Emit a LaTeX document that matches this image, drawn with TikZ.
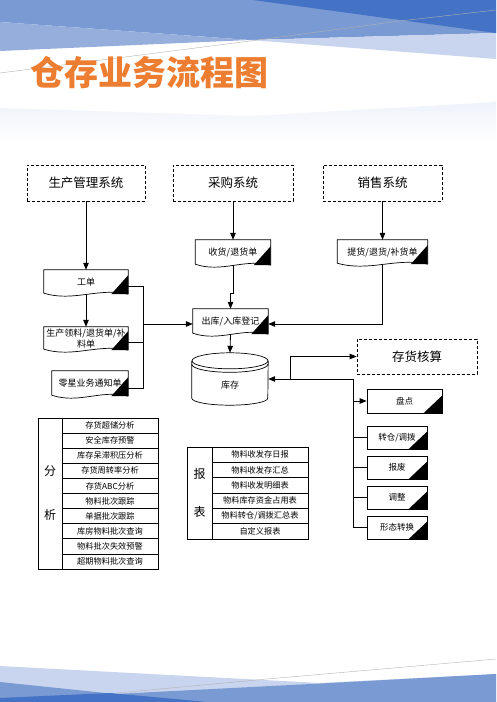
\documentclass[tikz,border=0pt]{standalone}
\usepackage{fontspec}
\setmainfont{Noto Sans CJK SC}
\usetikzlibrary{arrows.meta,calc}
\definecolor{titleorange}{HTML}{ED7D31}
\definecolor{bdark}{HTML}{4472C4}
\definecolor{bmed}{HTML}{7A9AD3}
\definecolor{bmid}{HTML}{95AEDC}
\definecolor{blight}{HTML}{C9D5EE}
\definecolor{bpale}{HTML}{EEF2FA}
\newcommand\docshape[1]{%
  \draw[line width=0.7pt] (#1.south east) -- (#1.north east) -- (#1.north west) -- ($(#1.south west)+(0,-1)$)
    .. controls ($(#1.south west)!0.35!(#1.south east)+(0,8)$) and ($(#1.south west)!0.65!(#1.south east)+(0,-7)$) .. (#1.south east);
  \fill ($(#1.south east)+(0,-19)$) -- (#1.south east) -- ($(#1.south east)+(-17,0)$) -- cycle;}
\newcommand\boxtri[1]{%
  \fill ($(#1.south east)+(0,-18)$) -- (#1.south east) -- ($(#1.south east)+(-19,0)$) -- cycle;}
\begin{document}
\begin{tikzpicture}[x=1pt,y=-1pt,
  sysbox/.style={draw, dash pattern=on 3pt off 2pt, line width=0.8pt, inner sep=0pt,
    font=\fontsize{12.5}{15}\selectfont},
  docnode/.style={inner sep=0pt, align=center, font=\fontsize{9}{11}\selectfont},
  procbox/.style={draw, line width=0.7pt, inner sep=0pt, font=\fontsize{8.5}{10}\selectfont},
  cell/.style={draw, line width=0.7pt, minimum width=96pt, inner sep=0pt, font=\fontsize{8.2}{10}\selectfont},
  labcell/.style={draw, line width=0.7pt, inner sep=0pt, align=center, font=\fontsize{12}{14}\selectfont},
  conn/.style={line width=0.8pt},
  arr/.style={line width=0.8pt, -{Triangle[length=7pt,width=5.5pt]}}]
\useasboundingbox (0,0) rectangle (496,702);
% ---- background bands (top)
\shade[top color=bpale, bottom color=white] (0,108) -- (250,116) -- (496,102) -- (496,142) -- (0,142) -- cycle;
\fill[bmed] (0,0) -- (496,0) -- (496,33) -- (250,40) -- (0,22) -- cycle;
\fill[bmid] (0,22) -- (250,40) -- (0,51) -- cycle;
\fill[blight] (250,40) -- (496,33) -- (496,59) -- cycle;
\fill[bdark] (253,0) -- (496,0) -- (496,33) -- cycle;
\draw[gray!60, line width=0.4pt] (0,73) -- (250,41) -- (400,21) -- (496,10);
% ---- background bands (bottom)
\fill[blight] (0,666) -- (320,683) -- (496,674) -- (496,702) -- (0,702) -- cycle;
\fill[bmed] (0,682) -- (115,694) -- (330,683) -- (496,674) -- (496,702) -- (0,702) -- cycle;
\fill[bdark] (0,698) -- (110,693) -- (207,702) -- (0,702) -- cycle;
\draw[gray!60, line width=0.4pt] (117,693) -- (267,679) -- (496,659);
% ---- title
\node[anchor=west, inner sep=0pt, text=titleorange, font=\bfseries\fontsize{34}{40}\selectfont] (title) at (30,73) {仓存业务流程图};
% ---- systems
\node[sysbox, minimum width=118pt, minimum height=36pt] (sys1) at (86,183) {生产管理系统};
\node[sysbox, minimum width=120pt, minimum height=36pt] (sys2) at (233,183) {采购系统};
\node[sysbox, minimum width=119pt, minimum height=36pt] (sys3) at (382.5,183) {销售系统};
\node[sysbox, minimum width=120pt, minimum height=35pt] (hs) at (417,356.5) {存货核算};
% ---- documents
\node[docnode, minimum width=84pt, minimum height=24pt] (gd) at (86,282) {工单};
\node[docnode, minimum width=84pt, minimum height=23pt] (ll) at (86,338.5) {生产领料/退货单/补\\料单};
\node[docnode, minimum width=76pt, minimum height=25pt] (lx) at (90,383.5) {零星业务通知单};
\node[docnode, minimum width=75pt, minimum height=25pt] (sh) at (233,252.5) {收货/退货单};
\node[docnode, minimum width=90pt, minimum height=24pt] (th) at (382.5,252) {提货/退货/补货单};
\node[docnode, minimum width=75pt, minimum height=25pt] (cr) at (230.5,321.5) {出库/入库登记};
\docshape{gd}
\docshape{ll}
\docshape{lx}
\docshape{sh}
\docshape{th}
\docshape{cr}
% ---- inventory cylinder
\node[docnode, minimum width=76pt, minimum height=52pt,
  label={[docnode, yshift=-6pt]center:库存}] (kc) at (230,379) {};
\draw[line width=0.7pt] ($(kc.north west)+(0,8)$) -- ($(kc.south west)+(0,-7)$)
  arc[start angle=180, end angle=0, x radius=38, y radius=7] -- ($(kc.north east)+(0,8)$);
\draw[line width=0.7pt] ($(kc.north)+(0,8)$) ellipse[x radius=38, y radius=8];
\draw[line width=0.7pt] ($(kc.north west)+(0,11.5)$) arc[start angle=180, end angle=0, x radius=38, y radius=8];
% ---- process boxes
\node[procbox, minimum width=75pt, minimum height=24pt] (pd) at (404.5,401) {盘点};
\node[procbox, minimum width=60pt, minimum height=23pt] (zc) at (397,437.5) {转仓/调拨};
\node[procbox, minimum width=60pt, minimum height=23pt] (bf) at (397,467.5) {报废};
\node[procbox, minimum width=60pt, minimum height=23pt] (tz) at (397,497.5) {调整};
\node[procbox, minimum width=60pt, minimum height=23pt] (xt) at (397,527.5) {形态转换};
\boxtri{pd}
\boxtri{zc}
\boxtri{bf}
\boxtri{tz}
\boxtri{xt}
% ---- connectors
\draw[arr] (sys1.south) -- (gd.north);
\draw[arr] (gd.south) -- (ll.north);
\draw[arr] (sys2.south) -- (sh.north);
\draw[arr] (sh.south) -- (sh.south |- 0,293) -| (cr.north);
\draw[arr] (sys3.south) -- (th.north);
\draw[arr] (th.south) |- ([yshift=-2.5pt]cr.east);
\coordinate (bx) at (143,324);
\draw[conn] ([yshift=-4pt]gd.east) -| (bx);
\draw[conn] ([yshift=-3.5pt]ll.east) -| (bx);
\draw[conn] ([yshift=-4.5pt]lx.east) -| (bx);
\draw[arr] (bx) -- (bx -| cr.west);
\draw[arr] (cr.south) -- (kc.north);
\coordinate (j1) at (290,379);
\coordinate (j2) at (353,379);
\draw[arr] (j2) -- (kc.east);
\draw[arr] (j1) |- (hs.west);
\draw[conn] (j2) -- (j2 |- xt.west);
\draw[arr] (j2 |- pd.west) -- (pd.west);
\draw[conn] (j2 |- zc.west) -- (zc.west);
\draw[conn] (j2 |- bf.west) -- (bf.west);
\draw[conn] (j2 |- tz.west) -- (tz.west);
\draw[conn] (j2 |- xt.west) -- (xt.west);
% ---- analysis table
\node[labcell, minimum width=24pt, minimum height=151pt] (fx) at (50,493.5) {分\\[30pt]析};
\foreach \t [count=\i] in {存货超储分析,安全库存预警,库存呆滞积压分析,存货周转率分析,存货ABC分析,物料批次跟踪,单据批次跟踪,库房物料批次查询,物料批次失效预警,超期物料批次查询}
  \node[cell, minimum height=15.1pt] (a\i) at (110,{418+15.1*(\i-0.5)}) {\t};
% ---- report table
\node[labcell, minimum width=25pt, minimum height=92pt] (bb) at (199.5,493) {报\\[24pt]表};
\foreach \t [count=\i] in {物料收发存日报,物料收发存汇总,物料收发明细表,物料库存资金占用表,物料转仓/调拨汇总表,自定义报表}
  \node[cell, minimum height=15.33pt] (r\i) at (260,{447+15.33*(\i-0.5)}) {\t};
\end{tikzpicture}
\end{document}
